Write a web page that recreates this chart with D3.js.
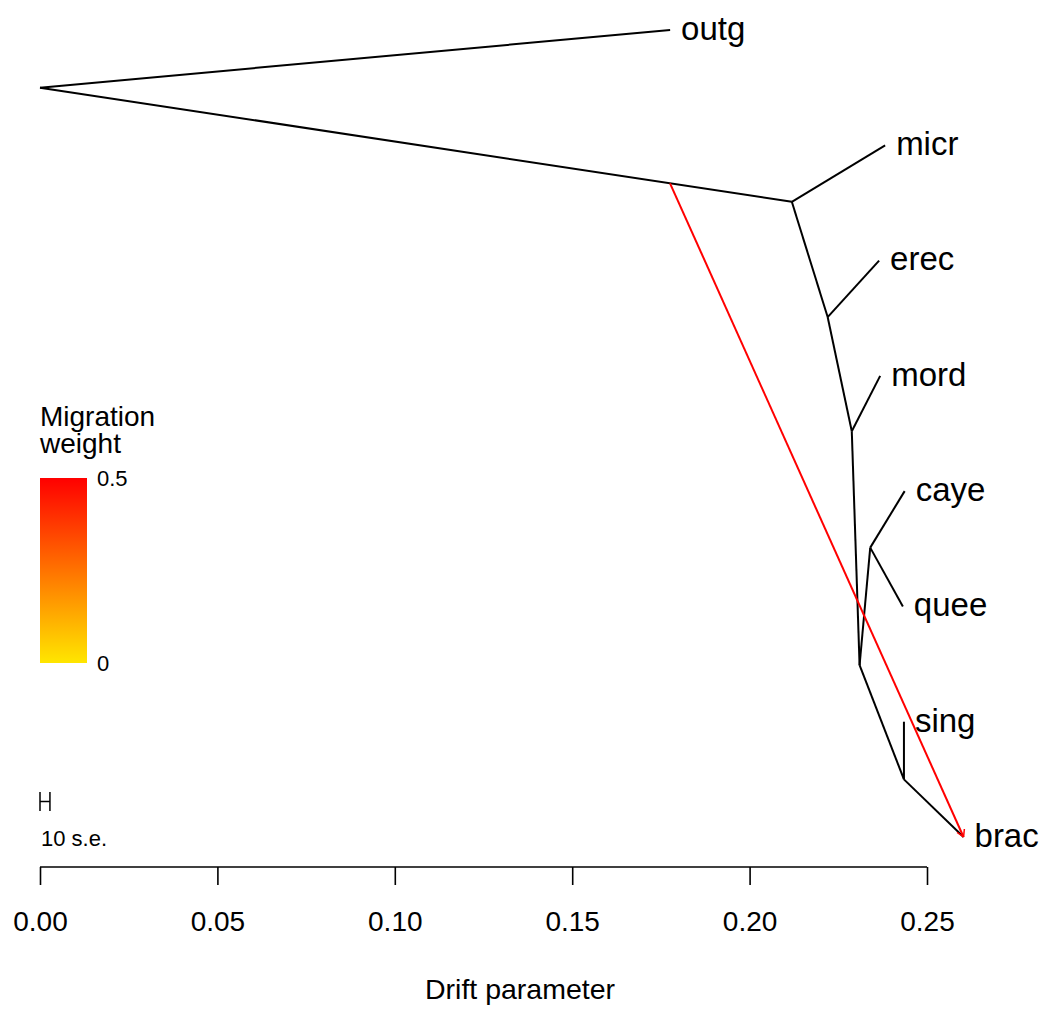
<!DOCTYPE html>
<html lang="en">
<head>
    <meta charset="UTF-8">
    <title>Drift tree with migration</title>
    <script src="https://d3js.org/d3.v7.min.js"></script>
    <style>
        body {
            margin: 0;
            background: #fff;
            font-family: 'Liberation Sans', Arial, sans-serif;
        }
        .edge {
            fill: none;
            stroke: #000;
            stroke-width: 2px;
        }
        .leaf {
            font-size: 33px;
            fill: #000;
        }
        .axis text {
            font-size: 28px;
            font-family: 'Liberation Sans', Arial, sans-serif;
        }
        .axis path, .axis line {
            stroke: #000;
            stroke-width: 1.6px;
        }
    </style>
</head>
<body>
    <svg id="chart" width="1051" height="1010"></svg>

    <script>
        // nodes: drift (x) and vertical slot (y), leaves on whole slots
        const nodeNames = ["root", "outg", "A", "micr", "B", "erec", "C", "mord", "E", "D", "caye", "quee", "F", "sing", "brac"];
        const nodeDrift = [0, 0.1776, 0.2119, 0.2382, 0.2220, 0.2365, 0.2288, 0.2368, 0.2310, 0.2340, 0.2437, 0.2432, 0.2435, 0.2435, 0.2603];
        const nodeSlot  = [6.5, 7, 5.51, 6, 4.51, 5, 3.52, 4, 1.49, 2.51, 3, 2, 0.5, 1, 0];
        const leaves = ["outg", "micr", "erec", "mord", "caye", "quee", "sing", "brac"];

        const edgeFrom = ["root", "root", "A", "A", "B", "B", "C", "C", "E", "D", "D", "E", "F", "F"];
        const edgeTo   = ["outg", "A", "micr", "B", "erec", "C", "mord", "E", "D", "caye", "quee", "F", "sing", "brac"];

        // migration edge: starts part way along an edge, ends at a node
        const migFromEdge = ["root", "A"];
        const migFromFrac = 0.838;
        const migTo = "brac";
        const migWeight = 0.5;

        const xTicks = [0, 0.05, 0.10, 0.15, 0.20, 0.25];
        const xLim = [0, 0.2706]; // plot region (room for labels)
        const legendTicks = [0, 0.5];
        const seBar = 0.0028; // 10 s.e. in drift units

        const svg = d3.select("#chart");
        const x = d3.scaleLinear().domain([0, 0.25]).range([40, 927]);
        const y = d3.scaleLinear().domain([0, 7]).range([837, 30]);

        // rev(heat.colors) trimmed: yellow-ish to red
        const color = d3.scaleLinear().domain([0, 0.5])
            .range([d3.hsl(54, 1, 0.5), d3.hsl(0, 1, 0.5)])
            .interpolate(d3.interpolateHsl);

        const pos = {};
        nodeNames.forEach((n, i) => pos[n] = { x: x(nodeDrift[i]), y: y(nodeSlot[i]) });

        svg.selectAll(".edge")
            .data(edgeFrom.map((f, i) => ({ a: pos[f], b: pos[edgeTo[i]] })))
            .enter().append("line")
            .attr("class", "edge")
            .attr("x1", d => d.a.x).attr("y1", d => d.a.y)
            .attr("x2", d => d.b.x).attr("y2", d => d.b.y);

        // migration arrow
        const p0 = pos[migFromEdge[0]], p1 = pos[migFromEdge[1]];
        const ms = { x: p0.x + (p1.x - p0.x) * migFromFrac, y: p0.y + (p1.y - p0.y) * migFromFrac };
        const me = pos[migTo];
        const mcol = color(migWeight);
        svg.append("line")
            .attr("x1", ms.x).attr("y1", ms.y).attr("x2", me.x).attr("y2", me.y)
            .attr("stroke", mcol).attr("stroke-width", 2);
        const ang = Math.atan2(me.y - ms.y, me.x - ms.x);
        [-1, 1].forEach(s => {
            const a = ang + Math.PI + s * Math.PI / 6;
            svg.append("line")
                .attr("x1", me.x).attr("y1", me.y)
                .attr("x2", me.x + 8 * Math.cos(a)).attr("y2", me.y + 8 * Math.sin(a))
                .attr("stroke", mcol).attr("stroke-width", 1.5);
        });

        // leaf labels
        svg.selectAll(".leaf")
            .data(leaves)
            .enter().append("text")
            .attr("class", "leaf")
            .attr("x", d => pos[d].x + 11)
            .attr("y", d => pos[d].y)
            .attr("dy", "0.3em")
            .text(d => d);

        // axis
        svg.append("g")
            .attr("class", "axis")
            .attr("transform", "translate(0,867)")
            .call(d3.axisBottom(x).tickValues(xTicks).tickFormat(d3.format(".2f")).tickSize(18).tickPadding(26).tickSizeOuter(0))
            .call(g => g.select(".domain").attr("d", `M${x(0)},0H${x(0.25)}`));
        svg.selectAll(".axis text").attr("fill", "#000");

        svg.append("text")
            .attr("x", (x(xLim[0]) + x(xLim[1])) / 2).attr("y", 999)
            .attr("text-anchor", "middle")
            .style("font-size", "28.5px")
            .text("Drift parameter");

        // legend
        const defs = svg.append("defs");
        const grad = defs.append("linearGradient").attr("id", "mgrad")
            .attr("x1", 0).attr("y1", 1).attr("x2", 0).attr("y2", 0);
        d3.range(0, 1.01, 0.1).forEach(t => {
            grad.append("stop").attr("offset", t).attr("stop-color", color(t * 0.5));
        });
        const ly = d3.scaleLinear().domain([0, 0.5]).range([663, 478]);
        svg.append("rect")
            .attr("x", 40).attr("y", ly(0.5)).attr("width", 47).attr("height", ly(0) - ly(0.5))
            .attr("fill", "url(#mgrad)");
        svg.selectAll(".ltick")
            .data(legendTicks)
            .enter().append("text")
            .attr("class", "ltick")
            .attr("x", 97).attr("y", d => ly(d))
            .attr("dy", "0.36em")
            .style("font-size", "22px")
            .text(d => d === 0 ? "0" : d);
        svg.append("text").attr("x", 40).attr("y", 426).style("font-size", "28px").text("Migration");
        svg.append("text").attr("x", 40).attr("y", 453).style("font-size", "28px").text("weight");

        // s.e. scale bar
        const sb = svg.append("g").attr("stroke", "#000").attr("stroke-width", 1.5);
        sb.append("line").attr("x1", x(0)).attr("x2", x(0)).attr("y1", 792).attr("y2", 811);
        sb.append("line").attr("x1", x(seBar)).attr("x2", x(seBar)).attr("y1", 792).attr("y2", 811);
        sb.append("line").attr("x1", x(0)).attr("x2", x(seBar)).attr("y1", 801.5).attr("y2", 801.5);
        svg.append("text").attr("x", 41).attr("y", 846).style("font-size", "22px").text("10 s.e.");
    </script>
</body>
</html>
